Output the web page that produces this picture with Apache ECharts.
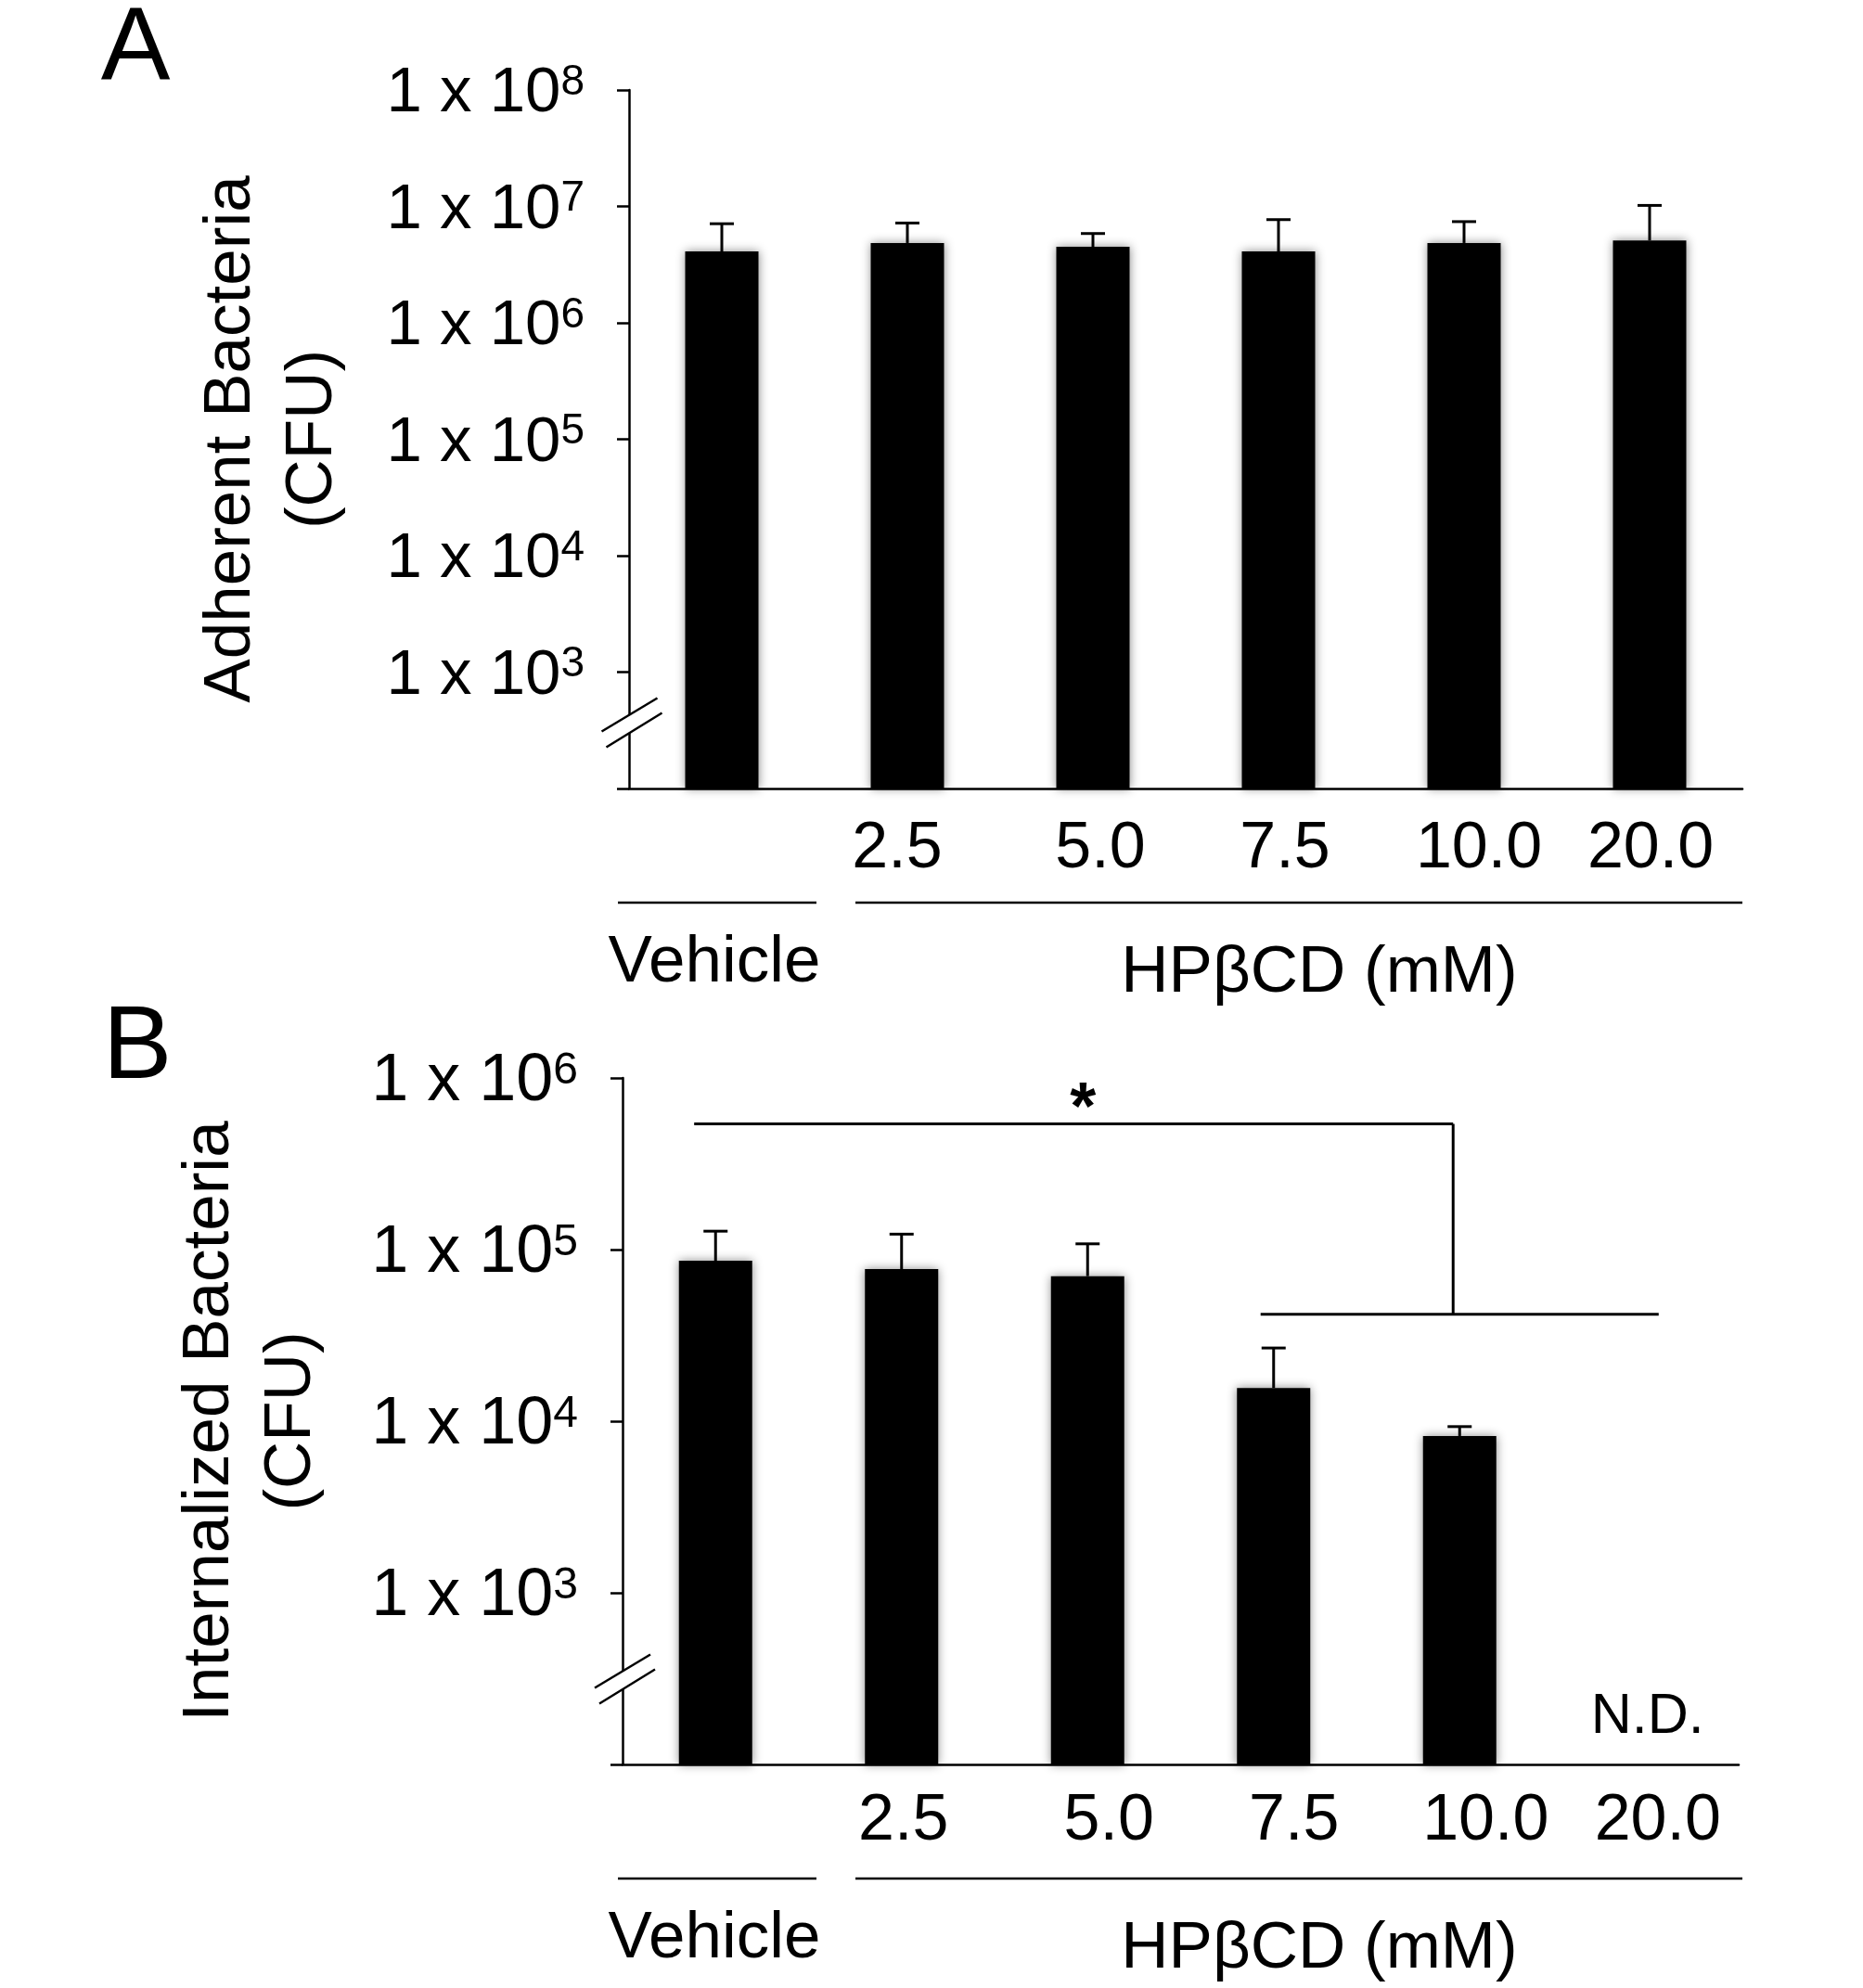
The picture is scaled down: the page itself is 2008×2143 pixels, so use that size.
<!DOCTYPE html>
<html>
<head>
<meta charset="utf-8">
<script src="https://cdn.jsdelivr.net/npm/echarts@6/dist/echarts.min.js"></script>
<style>
html, body { margin: 0; padding: 0; background: #fff; }
#chart { width: 2008px; height: 2143px; }
</style>
</head>
<body>
<div id="chart"></div>
<script>
// categories and tick labels
const categories = ['Vehicle', '2.5', '5.0', '7.5', '10.0', '20.0'];
const tickLabels = ['', '2.5', '5.0', '7.5', '10.0', '20.0'];

// A: adherent bacteria (CFU), mean and top of error bar
const adherentMean = [4.1e6, 4.85e6, 4.5e6, 4.1e6, 4.85e6, 5.1e6];
const adherentUpper = [7.1e6, 7.2e6, 5.85e6, 7.7e6, 7.4e6, 1.02e7];

// B: internalized bacteria (CFU), 20.0 mM not detected
const internalizedMean = [8.6e4, 7.7e4, 7.0e4, 1.56e4, 8.2e3, null];
const internalizedUpper = [1.28e5, 1.23e5, 1.08e5, 2.67e4, 9.3e3, null];

// significance bracket levels in B
const bracketTop = 5.4e5;
const bracketLow = 4.2e4;

// small horizontal nudges of the tick labels (px), as set in the original figure
const labelShiftA = [0, -11, 8, 7, 16, 1];
const labelShiftB = [0, 2, 23, 22, 28, 13];

const FONT = '"Liberation Sans", Arial, Helvetica, sans-serif';
const LINE = { color: '#000', width: 2.5 };

const chart = echarts.init(document.getElementById('chart'), null, { renderer: 'canvas' });

function logLabel(value) {
    const exp = Math.round(Math.log10(value));
    if (exp <= 2) return '';
    return '{b|1 x 10}{s|' + exp + '}';
}

function yAxis(gridIndex, min, max, split, name, gap, size) {
    return {
        type: 'log',
        logBase: 10,
        gridIndex: gridIndex,
        min: min,
        max: max,
        splitNumber: split,
        name: name,
        nameLocation: 'middle',
        nameRotate: 90,
        nameGap: gap,
        nameTextStyle: { fontSize: 71, lineHeight: 88, color: '#000', fontFamily: FONT },
        axisLine: { show: true, lineStyle: LINE },
        axisTick: { show: true, length: 13, lineStyle: LINE },
        splitLine: { show: false },
        minorTick: { show: false },
        axisLabel: {
            margin: 48,
            padding: [8, 0, 0, 0],
            formatter: logLabel,
            rich: {
                b: { fontSize: size, lineHeight: 70, color: '#000', fontFamily: FONT },
                s: { fontSize: Math.round(size * 0.66), lineHeight: 40, verticalAlign: 'top', color: '#000', fontFamily: FONT }
            }
        }
    };
}

function xAxis(gridIndex, margin, shifts) {
    return {
        type: 'category',
        gridIndex: gridIndex,
        data: categories.map((c, i) => ({
            value: c,
            textStyle: {
                padding: shifts[i] >= 0 ? [0, 0, 0, 2 * shifts[i]] : [0, -2 * shifts[i], 0, 0]
            }
        })),
        axisLine: { show: true, lineStyle: LINE },
        axisTick: { show: false },
        axisLabel: {
            margin: margin,
            fontSize: 70,
            color: '#000',
            fontFamily: FONT,
            interval: 0,
            formatter: (v, i) => tickLabels[i]
        }
    };
}

function barSeries(idx, data) {
    return {
        type: 'bar',
        xAxisIndex: idx,
        yAxisIndex: idx,
        data: data.map(v => (v == null ? '-' : v)),
        barWidth: 79,
        clip: true,
        itemStyle: {
            color: '#000',
            shadowBlur: 10,
            shadowColor: 'rgba(0,0,0,0.45)'
        },
        z: 3
    };
}

function errorSeries(idx, mean, upper) {
    const data = [];
    mean.forEach((m, i) => {
        if (m != null) data.push([i, m, upper[i]]);
    });
    return {
        type: 'custom',
        xAxisIndex: idx,
        yAxisIndex: idx,
        data: data,
        z: 2,
        renderItem: (params, api) => {
            const base = api.coord([api.value(0), api.value(1)]);
            const top = api.coord([api.value(0), api.value(2)]);
            const style = { stroke: '#000', lineWidth: 3 };
            return {
                type: 'group',
                children: [
                    { type: 'line', shape: { x1: base[0], y1: base[1], x2: base[0], y2: top[1] }, style: style },
                    { type: 'line', shape: { x1: base[0] - 13, y1: top[1], x2: base[0] + 13, y2: top[1] }, style: style }
                ]
            };
        }
    };
}

chart.setOption({
    animation: false,
    backgroundColor: '#fff',
    textStyle: { fontFamily: FONT },
    grid: [
        { left: 678, top: 97, width: 1200, height: 753, containLabel: false, outerBoundsMode: 'none' },
        { left: 671, top: 1162, width: 1203, height: 740, containLabel: false, outerBoundsMode: 'none' }
    ],
    xAxis: [xAxis(0, 31, labelShiftA), xAxis(1, 27, labelShiftB)],
    yAxis: [
        yAxis(0, 1e2, 1e8, 6, 'Adherent Bacteria\n(CFU)', 297, 69),
        yAxis(1, 1e2, 1e6, 4, 'Internalized Bacteria\n(CFU)', 313, 72)
    ],
    series: [
        barSeries(0, adherentMean),
        errorSeries(0, adherentMean, adherentUpper),
        barSeries(1, internalizedMean),
        errorSeries(1, internalizedMean, internalizedUpper)
    ]
});

// annotations placed from the axes' own pixel mapping
function txt(text, x, y, size, bold) {
    return {
        type: 'text',
        z: 10,
        style: {
            text: text, x: x, y: y,
            fontSize: size, fontFamily: FONT, fontWeight: bold ? 'bold' : 'normal',
            fill: '#000',
            align: 'center', verticalAlign: 'middle',
            textAlign: 'center', textVerticalAlign: 'middle'
        }
    };
}

function seg(x1, y1, x2, y2, w) {
    return {
        type: 'line', z: 10,
        shape: { x1: x1, y1: y1, x2: x2, y2: y2 },
        style: { stroke: '#000', lineWidth: w || 2.5 }
    };
}

function axisBreak(cx, cy) {
    return [
        {
            type: 'polygon', z: 9,
            shape: { points: [[cx - 32, cy + 10], [cx + 28, cy - 26], [cx + 33, cy - 10], [cx - 27, cy + 27]] },
            style: { fill: '#fff' }
        },
        seg(cx - 32, cy + 10, cx + 28, cy - 26, 2.5),
        seg(cx - 27, cy + 27, cx + 33, cy - 10, 2.5)
    ];
}

// group lines and group names under the category labels
function groupLabels(gridIndex) {
    const bottom = chart.convertToPixel({ gridIndex: gridIndex }, [0, 100])[1];
    return [
        seg(666, bottom + 123, 880, bottom + 123),
        seg(922, bottom + 123, 1878, bottom + 123),
        txt('Vehicle', 770, bottom + 188, 71),
        txt('HPβCD (mM)', 1422, bottom + 199, 71)
    ];
}

function buildGraphics() {
    const els = [];
    els.push(txt('A', 146, 54, 112));
    els.push(txt('B', 148, 1131, 112));
    els.push(...groupLabels(0), ...groupLabels(1));

    const ya = chart.convertToPixel({ gridIndex: 0 }, [0, Math.pow(10, 2.57)]);
    const yb = chart.convertToPixel({ gridIndex: 1 }, [0, Math.pow(10, 2.5)]);
    els.push(...axisBreak(680.5, ya[1]));
    els.push(...axisBreak(673, yb[1]));

    // significance bracket in B
    const b0 = chart.convertToPixel({ gridIndex: 1 }, [0, bracketTop]);
    const b1 = chart.convertToPixel({ gridIndex: 1 }, [1, bracketLow]);
    const step = b1[0] - b0[0];
    const xOf = f => b0[0] + f * step;
    const yTop = b0[1];
    const yLow = b1[1];
    els.push(seg(xOf(-0.115), yTop, xOf(3.965), yTop, 3));
    els.push(seg(xOf(3.965), yTop, xOf(3.965), yLow, 3));
    els.push(seg(xOf(2.93), yLow, xOf(5.07), yLow, 3));
    els.push(txt('*', xOf(1.975), yTop - 14, 72, true));

    // not detected at 20.0 mM
    const nd = chart.convertToPixel({ gridIndex: 1 }, [5, 100]);
    els.push(txt('N.D.', nd[0] + 2, nd[1] - 51, 61));
    return els;
}

chart.setOption({ graphic: { elements: buildGraphics() } });
</script>
</body>
</html>
